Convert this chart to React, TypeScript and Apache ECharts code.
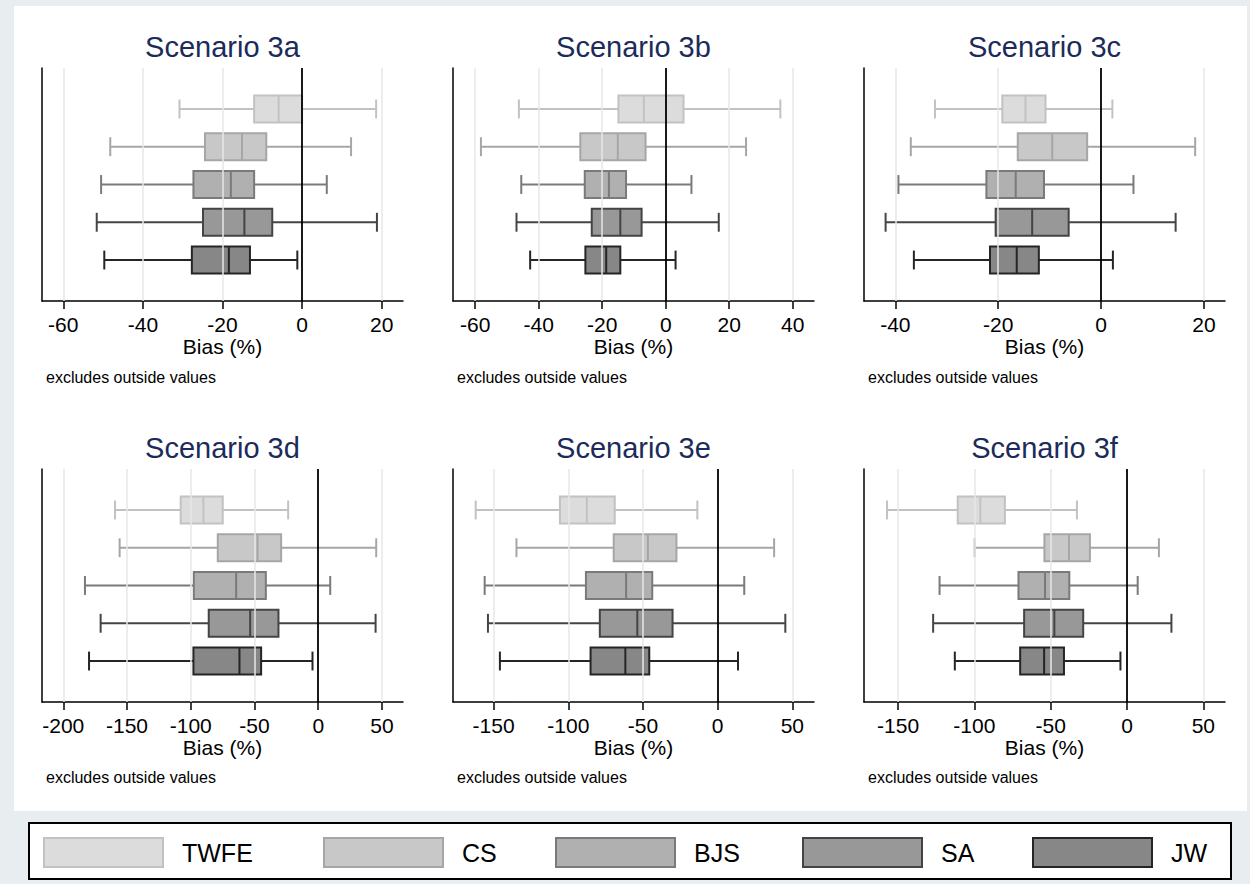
import React, { useEffect, useRef } from 'react';
import * as echarts from 'echarts';

// ---------- data ----------
const methods = ['TWFE', 'CS', 'BJS', 'SA', 'JW'];
const scenarioTitles = ['Scenario 3a', 'Scenario 3b', 'Scenario 3c', 'Scenario 3d', 'Scenario 3e', 'Scenario 3f'];

// each row: [lower whisker, Q1, median, Q3, upper whisker] for TWFE, CS, BJS, SA, JW
const s3a = [
  [-30.8, -12.05, -5.9, 0, 18.6],
  [-48.2, -24.4, -15.1, -9.0, 12.3],
  [-50.5, -27.3, -17.9, -12.05, 6.2],
  [-51.6, -24.9, -14.5, -7.5, 18.8],
  [-49.7, -27.7, -18.4, -13.1, -1.2],
];
const s3b = [
  [-46.25, -14.9, -6.9, 5.6, 36.1],
  [-58.2, -26.9, -15.1, -6.35, 25.3],
  [-45.5, -25.5, -17.9, -12.5, 8.1],
  [-47.0, -23.3, -14.3, -7.6, 16.7],
  [-42.7, -25.3, -18.75, -14.3, 3.1],
];
const s3c = [
  [-32.3, -19.2, -14.7, -10.8, 2.2],
  [-37.0, -16.2, -9.5, -2.7, 18.3],
  [-39.4, -22.3, -16.6, -11.1, 6.3],
  [-41.9, -20.5, -13.4, -6.3, 14.5],
  [-36.4, -21.6, -16.4, -12.1, 2.3],
];
const s3d = [
  [-159.4, -107.9, -90.1, -74.9, -23.6],
  [-155.8, -78.8, -47.6, -29.1, 45.5],
  [-183, -97.6, -64.4, -41.1, 9.4],
  [-170.7, -85.9, -53.4, -31.2, 45.0],
  [-179.8, -97.9, -61.8, -44.8, -4.5],
];
const s3e = [
  [-162, -105.6, -87.6, -68.9, -13.6],
  [-134.7, -69.6, -46.7, -27.6, 37.8],
  [-156, -88.2, -61.3, -43.8, 17.8],
  [-153.8, -78.9, -53.8, -30.2, 45.3],
  [-145.8, -85.1, -61.8, -45.8, 13.6],
];
const s3f = [
  [-157.2, -110.9, -96.1, -80, -32.8],
  [-99.8, -54.1, -38, -24.3, 20.9],
  [-122.8, -71.1, -53.7, -37.8, 7],
  [-127, -67.4, -47.6, -28.7, 29.1],
  [-112.8, -70, -54.3, -41.3, -4.3],
];
const scenarioData = [s3a, s3b, s3c, s3d, s3e, s3f];

const ticks3a = [-60, -40, -20, 0, 20];
const ticks3b = [-60, -40, -20, 0, 20, 40];
const ticks3c = [-40, -20, 0, 20];
const ticks3d = [-200, -150, -100, -50, 0, 50];
const ticks3e = [-150, -100, -50, 0, 50];
const ticks3f = [-150, -100, -50, 0, 50];
const scenarioTicks = [ticks3a, ticks3b, ticks3c, ticks3d, ticks3e, ticks3f];

const axisMins = [-65.35, -67, -46.1, -216.7, -177.2, -172.3];
const axisMaxs = [25.35, 46.7, 24.1, 66.5, 64.5, 64.2];

// ---------- style ----------
const FONT = '"Liberation Sans", Arial, Helvetica, sans-serif';
const fillColors = ['#dcdcdc', '#c8c8c8', '#b0b0b0', '#989898', '#878787'];
const lineColors = ['#c2c2c2', '#a6a6a6', '#7a7a7a', '#444444', '#252525'];
const GRID_LEFTS = [42, 453, 864];
const GRID_TOPS = [68, 469];
const GRID_W = 361;
const GRID_H = 233;
const TITLE_Y = [47, 448];
const NOTE_Y = [377, 777];
const LEGEND_LEFTS = [43, 323, 555, 802, 1032];
const BOX_FRAC = 0.714;
const CAP_FRAC = 0.5;

function makeRenderItem(fill: string, stroke: string) {
  return (params: any, api: any) => {
    const pos = api.value(0);
    const lo = api.coord([api.value(1), pos]);
    const q1 = api.coord([api.value(2), pos]);
    const md = api.coord([api.value(3), pos]);
    const q3 = api.coord([api.value(4), pos]);
    const hi = api.coord([api.value(5), pos]);
    const unit = Math.abs(api.size([0, 1])[1]);
    const bh = unit * BOX_FRAC;
    const ch = unit * CAP_FRAC;
    const y = lo[1];
    const ls = { stroke, lineWidth: 2, fill: null };
    return {
      type: 'group',
      children: [
        { type: 'line', shape: { x1: lo[0], y1: y, x2: q1[0], y2: y }, style: ls },
        { type: 'line', shape: { x1: q3[0], y1: y, x2: hi[0], y2: y }, style: ls },
        { type: 'line', shape: { x1: lo[0], y1: y - ch / 2, x2: lo[0], y2: y + ch / 2 }, style: ls },
        { type: 'line', shape: { x1: hi[0], y1: y - ch / 2, x2: hi[0], y2: y + ch / 2 }, style: ls },
        {
          type: 'rect',
          shape: { x: q1[0], y: y - bh / 2, width: q3[0] - q1[0], height: bh },
          style: { fill, stroke, lineWidth: 2 },
        },
        { type: 'line', shape: { x1: md[0], y1: y - bh / 2, x2: md[0], y2: y + bh / 2 }, style: ls },
      ],
    };
  };
}

function buildOption() {
  const grid: any[] = [];
  const xAxis: any[] = [];
  const yAxis: any[] = [];
  const series: any[] = [];
  const graphic: any[] = [];

  scenarioData.forEach((rows, p) => {
    const col = p % 3;
    const row = Math.floor(p / 3);
    const left = GRID_LEFTS[col];
    const top = GRID_TOPS[row];
    grid.push({ left, top, width: GRID_W, height: GRID_H, containLabel: false });
    const ticks = scenarioTicks[p];
    xAxis.push({
      type: 'value',
      gridIndex: p,
      min: axisMins[p],
      max: axisMaxs[p],
      name: 'Bias (%)',
      nameLocation: 'middle',
      nameGap: 35,
      nameTextStyle: { fontSize: 21, color: '#000', fontFamily: FONT },
      axisLine: { show: true, onZero: false, lineStyle: { color: '#000', width: 1.5 } },
      axisTick: { show: true, length: 8, customValues: ticks, lineStyle: { color: '#000', width: 1.5 } },
      axisLabel: { customValues: ticks, fontSize: 21, color: '#000', margin: 13, fontFamily: FONT },
      splitLine: { show: false },
    });
    yAxis.push({
      type: 'value',
      gridIndex: p,
      inverse: true,
      min: -1.085,
      max: 5.085,
      axisLine: { show: true, onZero: false, lineStyle: { color: '#000', width: 1.5 } },
      axisTick: { show: false },
      axisLabel: { show: false },
      splitLine: { show: false },
    });
    // light grid lines at ticks
    series.push({
      type: 'line',
      xAxisIndex: p,
      yAxisIndex: p,
      data: [],
      z: 1,
      silent: true,
      markLine: {
        silent: true,
        symbol: ['none', 'none'],
        label: { show: false },
        lineStyle: { color: '#e2eaed', width: 1.5, type: 'solid' },
        data: ticks.filter((t) => t !== 0).map((t) => ({ xAxis: t })),
      },
    });
    methods.forEach((m, i) => {
      series.push({
        type: 'custom',
        name: m,
        xAxisIndex: p,
        yAxisIndex: p,
        z: 3,
        itemStyle: { color: fillColors[i], borderColor: lineColors[i], borderWidth: 2 },
        encode: { x: [1, 2, 3, 4, 5], y: 0 },
        data: [[i, ...rows[i]]],
        renderItem: makeRenderItem(fillColors[i], lineColors[i]),
      });
    });
    // zero reference line
    series.push({
      type: 'line',
      xAxisIndex: p,
      yAxisIndex: p,
      data: [],
      z: 5,
      silent: true,
      markLine: {
        silent: true,
        symbol: ['none', 'none'],
        label: { show: false },
        lineStyle: { color: '#000', width: 1.8, type: 'solid' },
        data: [{ xAxis: 0 }],
      },
    });
    graphic.push({
      type: 'text',
      x: left + GRID_W / 2,
      y: TITLE_Y[row],
      style: {
        text: scenarioTitles[p],
        fontSize: 29,
        fontFamily: FONT,
        fill: '#1c2b5a',
        textAlign: 'center',
        textVerticalAlign: 'middle',
      },
    });
    graphic.push({
      type: 'text',
      x: left + 4,
      y: NOTE_Y[row],
      style: {
        text: 'excludes outside values',
        fontSize: 16,
        fontFamily: FONT,
        fill: '#000',
        textAlign: 'left',
        textVerticalAlign: 'middle',
      },
    });
  });

  const legend = methods.map((m, i) => ({
    left: LEGEND_LEFTS[i],
    top: 837,
    padding: 0,
    icon: 'rect',
    itemWidth: 119,
    itemHeight: 29,
    selectedMode: false,
    textStyle: { fontSize: 25, color: '#000', fontFamily: FONT, padding: [0, 0, 0, 14] },
    data: [{ name: m, itemStyle: { color: fillColors[i], borderColor: lineColors[i], borderWidth: 2 } }],
  }));

  return {
    animation: false,
    backgroundColor: 'transparent',
    grid,
    xAxis,
    yAxis,
    series,
    legend,
    graphic,
  };
}

export default function App() {
  const ref = useRef<HTMLDivElement>(null);
  useEffect(() => {
    if (!ref.current) return;
    const chart = echarts.init(ref.current, undefined, { renderer: 'svg' });
    chart.setOption(buildOption() as any);
    return () => chart.dispose();
  }, []);
  return (
    <div style={{ position: 'absolute', left: 0, top: 0, width: 1250, height: 884, background: '#e8eef0', overflow: 'hidden' }}>
      <div style={{ position: 'absolute', left: 14, top: 6, width: 1233, height: 805, background: '#ffffff' }} />
      <div
        style={{
          position: 'absolute',
          left: 28,
          top: 822,
          width: 1204,
          height: 58,
          background: '#ffffff',
          border: '2px solid #000',
          boxSizing: 'border-box',
        }}
      />
      <div ref={ref} style={{ position: 'absolute', left: 0, top: 0, width: 1250, height: 884 }} />
    </div>
  );
}
